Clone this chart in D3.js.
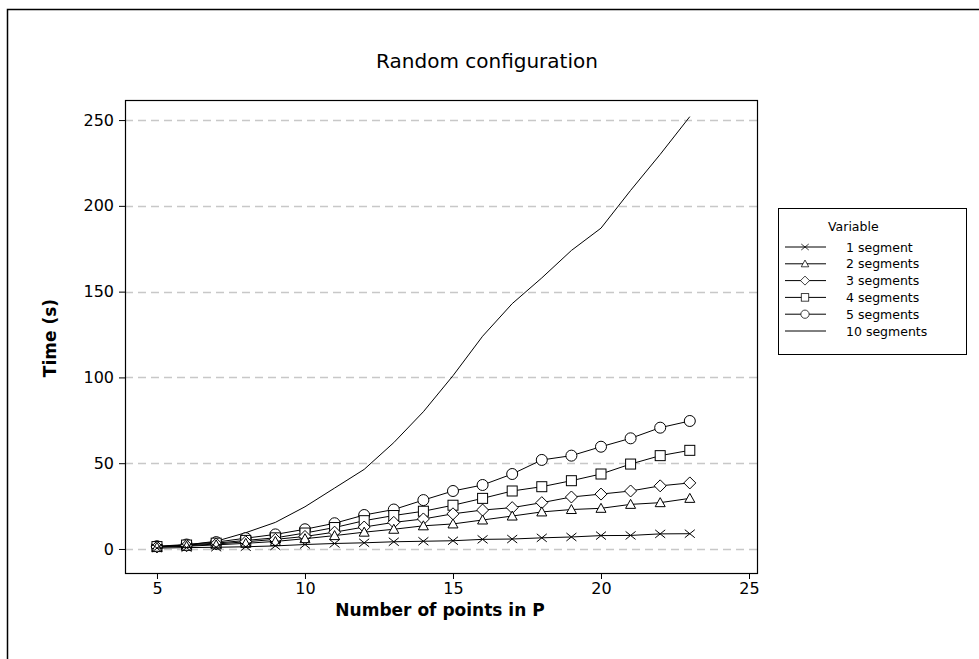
<!DOCTYPE html>
<html>
<head>
<meta charset="utf-8">
<script src="https://cdn.jsdelivr.net/npm/d3@7/dist/d3.min.js"></script>
<style>
  body { margin: 0; background: #fff; }
  svg { display: block; font-family: "DejaVu Sans", sans-serif; }
</style>
</head>
<body>
<svg id="chart" width="979" height="659"></svg>
<script>
// number of points in P
var points = [5, 6, 7, 8, 9, 10, 11, 12, 13, 14, 15, 16, 17, 18, 19, 20, 21, 22, 23];

// time (s) per series
var seg1  = [0.5, 0.8, 1.0, 1.3, 1.8, 2.6, 3.2, 3.6, 4.2, 4.5, 4.8, 5.6, 5.8, 6.5, 7.0, 7.8, 7.9, 8.8, 8.9];
var seg2  = [1.0, 1.6, 2.4, 3.3, 4.4, 6.0, 7.8, 9.8, 11.5, 13.5, 14.6, 16.9, 19.2, 21.6, 23.0, 23.7, 26.0, 27.0, 29.5];
var seg3  = [1.2, 1.9, 2.9, 4.2, 5.6, 7.3, 9.8, 12.8, 15.5, 17.5, 20.5, 22.7, 24.1, 27.0, 30.3, 32.0, 33.8, 36.8, 38.5];
var seg4  = [1.4, 2.3, 3.4, 5.0, 6.5, 9.3, 12.5, 16.5, 19.5, 22.0, 25.5, 29.5, 33.8, 36.3, 39.8, 43.7, 49.5, 54.4, 57.5];
var seg5  = [1.6, 2.6, 4.0, 6.3, 8.5, 11.5, 15.0, 19.8, 23.0, 28.5, 33.8, 37.3, 43.7, 51.9, 54.4, 59.6, 64.5, 70.7, 74.6];
var seg10 = [1.2, 2.4, 4.5, 9.5, 15.5, 24.6, 35.5, 46.4, 62, 80, 101, 124, 143, 158, 174, 187, 209, 230, 252];

var seriesNames = ["1 segment", "2 segments", "3 segments", "4 segments", "5 segments", "10 segments"];
var seriesValues = [seg1, seg2, seg3, seg4, seg5, seg10];
var seriesMarkers = ["cross", "triangle", "diamond", "square", "circle", "none"];

var xTicks = [5, 10, 15, 20, 25];
var yTicks = [0, 50, 100, 150, 200, 250];

var svg = d3.select('#chart');

// plot box
var box = { left: 125, top: 100, right: 757, bottom: 573 };

var x = d3.scaleLinear().domain([3.92, 25.27]).range([box.left, box.right]);
var y = d3.scaleLinear().domain([-14, 261.7]).range([box.bottom, box.top]);

// outer frame (only top and left edges are visible)
svg.append('rect')
    .attr('x', 7.5).attr('y', 9.5)
    .attr('width', 1000).attr('height', 700)
    .style('fill', 'none').style('stroke', '#000').style('stroke-width', 1.5);

// title
svg.append('text')
    .attr('x', 487).attr('y', 68)
    .attr('text-anchor', 'middle')
    .style('font-size', '20px')
    .text('Random configuration');

// dashed grid
svg.append('g').selectAll('line')
    .data(yTicks).enter().append('line')
    .attr('x1', box.left).attr('x2', box.right)
    .attr('y1', function(d){ return Math.round(y(d)) + 0.5; })
    .attr('y2', function(d){ return Math.round(y(d)) + 0.5; })
    .style('stroke', '#c8c8c8').style('stroke-width', 1.5)
    .style('stroke-dasharray', '8 5');

// axes
var yAxis = svg.append('g')
    .attr('transform', 'translate(' + box.left + ',0)')
    .call(d3.axisLeft(y).tickValues(yTicks).tickSize(6).tickPadding(5));
var xAxis = svg.append('g')
    .attr('transform', 'translate(0,' + box.bottom + ')')
    .call(d3.axisBottom(x).tickValues(xTicks).tickSize(6).tickPadding(4));
[xAxis, yAxis].forEach(function(a){
    a.select('.domain').remove();
    a.selectAll('text').style('font-size', '16px').style('fill', '#000')
        .style('font-family', '"DejaVu Sans", sans-serif');
    a.selectAll('.tick line').style('stroke', '#000');
});

// plot frame
svg.append('rect')
    .attr('x', box.left + 0.5).attr('y', box.top + 0.5)
    .attr('width', box.right - box.left).attr('height', box.bottom - box.top)
    .style('fill', 'none').style('stroke', '#000').style('stroke-width', 1.2);

// axis titles
svg.append('text')
    .attr('x', 440).attr('y', 616)
    .attr('text-anchor', 'middle')
    .style('font-size', '17px').style('font-weight', 'bold')
    .text('Number of points in P');
svg.append('text')
    .attr('transform', 'translate(56,' + 338 + ') rotate(-90)')
    .attr('text-anchor', 'middle')
    .style('font-size', '17px').style('font-weight', 'bold')
    .text('Time (s)');

// marker shapes
function drawMarker(g, type){
    switch (type) {
        case 'cross':
            g.append('path').attr('d', 'M-5,-4L5,4M-5,4L5,-4')
                .style('stroke', '#000').style('fill', 'none');
            break;
        case 'triangle':
            g.append('path').attr('d', 'M0,-5L5,4L-5,4Z')
                .style('stroke', '#000').style('fill', '#fff');
            break;
        case 'diamond':
            g.append('path').attr('d', 'M0,-6L6,0L0,6L-6,0Z')
                .style('stroke', '#000').style('fill', '#fff');
            break;
        case 'square':
            g.append('rect').attr('x', -5).attr('y', -5).attr('width', 10).attr('height', 10)
                .style('stroke', '#000').style('fill', '#fff');
            break;
        case 'circle':
            g.append('circle').attr('r', 5.5)
                .style('stroke', '#000').style('fill', '#fff');
            break;
        default:
            break;
    }
}

var line = d3.line()
    .x(function(d){ return x(d[0]); })
    .y(function(d){ return y(d[1]); });

// series, 10 segments first so markers sit on top
for (var s = seriesValues.length - 1; s >= 0; s--) {
    var pts = points.map(function(p, i){ return [p, seriesValues[s][i]]; });
    var grp = svg.append('g');
    grp.append('path')
        .datum(pts)
        .attr('d', line)
        .style('fill', 'none').style('stroke', '#000').style('stroke-width', 1);
    if (seriesMarkers[s] !== 'none') {
        grp.selectAll('g.mark')
            .data(pts).enter().append('g')
            .attr('class', 'mark')
            .attr('transform', function(d){ return 'translate(' + x(d[0]) + ',' + y(d[1]) + ')'; })
            .each(function(){ drawMarker(d3.select(this), seriesMarkers[s]); });
    }
}

// legend
var legend = svg.append('g').attr('transform', 'translate(778,208)');
legend.append('rect')
    .attr('x', 0.5).attr('y', 0.5).attr('width', 188).attr('height', 146)
    .style('fill', '#fff').style('stroke', '#000');
legend.append('text')
    .attr('x', 50).attr('y', 23)
    .style('font-size', '12.5px')
    .text('Variable');
var rowH = 16.8;
seriesNames.forEach(function(name, i){
    var row = legend.append('g').attr('transform', 'translate(0,' + (39 + i * rowH) + ')');
    row.append('line')
        .attr('x1', 7).attr('x2', 48).attr('y1', 0).attr('y2', 0)
        .style('stroke', '#000');
    var m = row.append('g').attr('transform', 'translate(27,0) scale(0.75)');
    drawMarker(m, seriesMarkers[i]);
    row.append('text')
        .attr('x', 68).attr('y', 4.5)
        .style('font-size', '12.5px')
        .text(name);
});
</script>
</body>
</html>
